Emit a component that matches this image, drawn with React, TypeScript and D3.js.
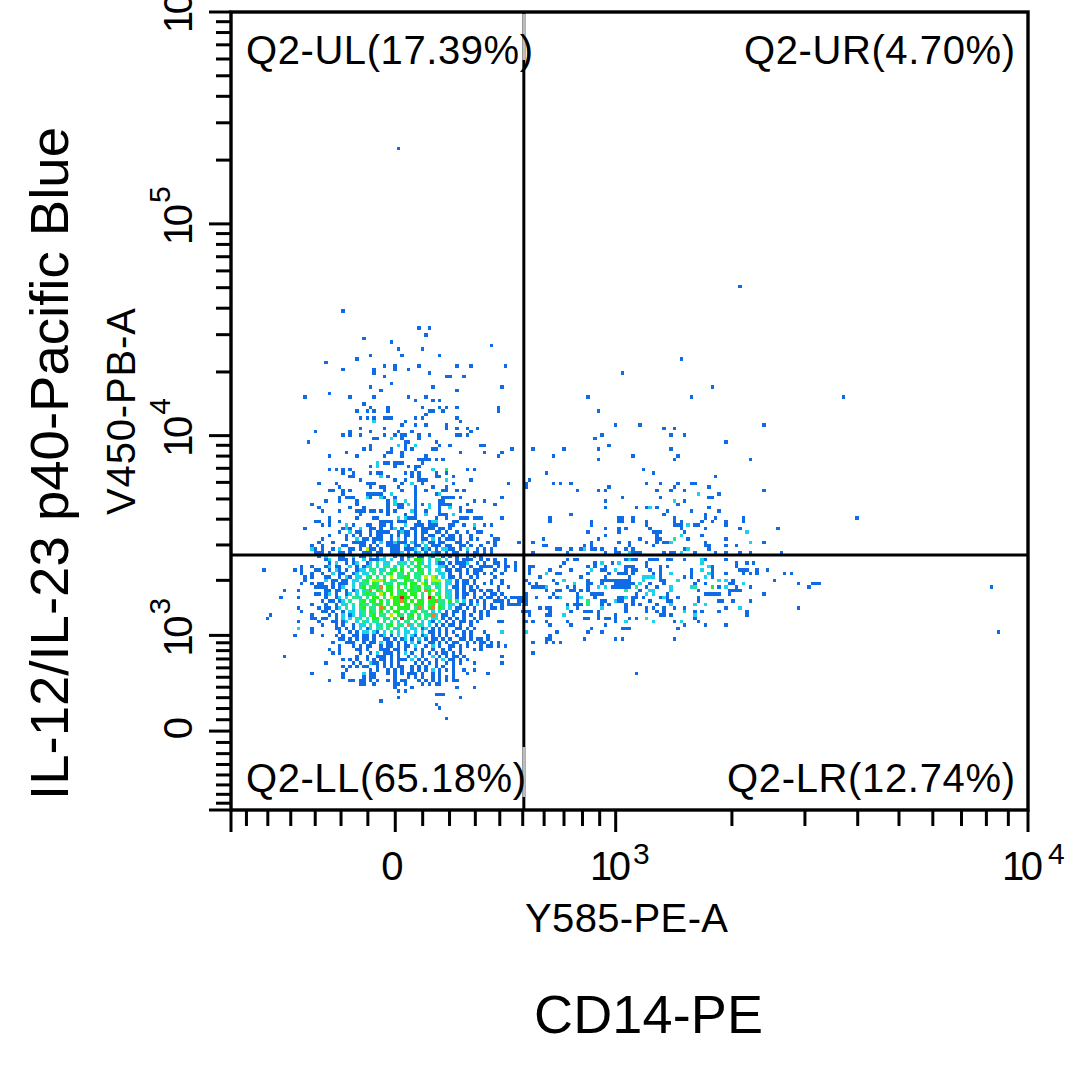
import * as d3 from 'd3';
import * as React from 'react';

// Tokens in the sparse rows: column number, suffix c = cyan, t = teal, g = green.

const gridSize = 231;
const cellColors = ['#ffffff', '#0f6ce4', '#1ad2ea', '#22e88c', '#22f020', '#b4f000', '#e8832c', '#dc1c1c'];

const quadrantLabels = ['Q2-UL(17.39%)', 'Q2-UR(4.70%)', 'Q2-LL(65.18%)', 'Q2-LR(12.74%)'];

const xMinorTicks = [-600, -500, -400, -300, -200, -100, 100, 200, 300, 400, 500, 600, 700, 800, 900, 2000, 3000, 4000, 5000, 6000, 7000, 8000, 9000];
const xMajorTicks = [-677, 0, 1000, 10000];
const yMinorTicks = [-700, -600, -500, -400, -300, -200, -100, 100, 200, 300, 400, 500, 600, 700, 800, 900,
  2000, 3000, 4000, 5000, 6000, 7000, 8000, 9000, 20000, 30000, 40000, 50000, 60000, 70000, 80000, 90000,
  200000, 300000, 400000, 500000, 600000, 700000, 800000, 900000];
const yMajorTicks = [-781, 0, 1000, 10000, 100000, 1000000];
const yExponentTicks = [[1000, 3], [10000, 4], [100000, 5]];
const xGate = 505;
const yGate = 2675;

// lower left cluster, col origin 17, row origin 147; one char per cell
const coreRows = [
  '.......11..1..1...........1111.111...1..122....11',
  '.........1.1....2.1...11..11.1...2..111.111...11..1..2..1.1',
  '....1..........121..2..11.1..12.1..11.1111.11.1......1',
  '..............1..2.11..1.1111..1211.1.11..11.1..1..1..11',
  '...........1....1.1.1..1.11..1.1.11.1.1.11..1.11.1..1.....1',
  '.........1......1..2.11.111..1.2.1..1.11.2.1.111.1..1.1....11',
  '........1...1.....1111..1.2.112111.21.2.11.11...11.1.....1.1......1',
  '......1..1.....11...11.1.1..1111.21.11.2.111.11..11.1..1...1',
  '......21.1..1.2..11.1.511.1..111.1112.121.1.2211.1.2..1.1.1',
  '.......111.1..11.1...111.11..1112.1.12.1.211.1.11..1.11.1.1',
  '........1.2...11..2.11.2.1.2..1.1.12.11.21..1.1.1..1.1.1',
  '..........12..111.1..2.11122.2..1.2.443.2.33.2..1.111..1.1.1..1',
  '...........1.2..1.12..12.3.22..232.3.42.2.211.1.1112..1.1..11.1..1',
  '...1..1...12.11..2.1.123.2.33.2.3.3.34.32..221.1.11.1..1111.1.11.1',
  '.1.1...11..1.21.1..122.33.23.34.4..3.43.2.32.11.11.1.111...1..1..1',
  '...1..1..1..2.11..12.22.3.3.34.33.4.334.3..22.1..1.1.11.1.1..1',
  '....1.1...11..1.21.22.34.3.3.5.3344.33.5.53.2.11.1..1.1....1',
  '....1.....2.11.11.22.34.5554.33..433.3.2.555.32.1.11.1....1..1',
  '...1..1.11..1.111.2.233.43.333.434.44.54.343.22.1.11.1..1.1..1',
  '.......1111.1.12..2.34.3435.44.4.3.434.33.23.2.11.1.1.1.....1..1',
  '..1.......11.11.1.12.234.43.44.34.3434.445.3.22.1.1.11.1.11.1',
  '.......11.12.1..12.2.3433.54.4.344.44.3.4.33.32.1.11.1..1.11.1',
  '..1.......1..12.2.332.3.44.3.544.44.4.3.34.4.32.1.1..1.1.11.1.1.11',
  '.........1.11.12.3..34.34.4.3.4444.4.44.44.33.4.3.2.1.1.1..111.1',
  '......1...1..1.22.3.433.344.3.44.44.444.34.33.22.11.1.2.1.1..1.111',
  '..1.....1.11.12.3.2.34.33.34.4.4444.3.3.44.43.2.11.1.1..1.11.1',
  '...1.....11.1..1.22.23.43.4.3.44.3.34.33.2.2.1.11.1..1.1.1',
  '......1....1.1.2.12.23.34.33.5.43.34.3.33.2.11.1..1.1..1.1',
  '......11.11..1.2.2.32.3.44.33.4.3.43.4.3.23.1.1.1.1..1.1',
  '..1.....1...11.12..2.32.33.3.3.2.33.3.2.21.2.1.1.11.1.1.....11',
  '.........1...1.1..1.22.3.23.34.33.22.32.2.1.1.11.1..1',
  '..2...1......11.1.1.2.12.33.3.23.2.22.12.1.1.1..11.1.1',
  '......1.......1..1.1.22.21.2.3.2.22.2.2.11.1.1.1..1.1...1....2',
  '.1.......1...1.1..11.11.1.12.1.2.2.21.12.1.1.1..1.1.1....1',
  '..............11.1.1.11.1..11.1.12.1.2.1.11.1.1..11.1.11.1',
  '............1...111..1.11.2.11.1.1.2.1..11.1.1.11..1.1.11.1.1',
  '..............1...1.1.11..1.11.1.11.2..1.2.1..11.1.1...1.11.1.1',
  '...........1..1....11.1...111.11.1..1.1..1..1.1..1...1.1',
  '............1.1.....1..1.2.111.1.2.1..1.1.1.11.1.1',
  '...................1..1..111.1.1..1.2.1..2.1.1.11.1..........1',
  '...............1.1.1..1.1.11.1.111.2.1.1..1.2.11.1.1',
  '..........1.......1.1..211.1.1.1....1.1.1.1..1.1.1...1.......1',
  '...............1.1.1.11..1.1.1.11..1.1.1..1.1..1',
  '................1......1.1..1.1.1..1.1.1.2.1.1.1..1..1',
  '......1........1.....2.11...1.1.1.111.1..1.1...1...1.....1',
  '...............1.....1.11.....1...1.1.1..1.1.1.1',
  '...........1.....11.11.1.1..1.1.11...1.1.1.1.1.11',
  '....................11..1.....11.1....1.1.11',
  '..............................1....1............1....1',
  '...............................1.1',
  '..........................................111',
  '...............................1.................1',
  '..........................1',
  '..........................................1',
  '...........................................1',
  '',
  '',
  '.............................................1',
];

// hottest cells of the lower left cluster: column, row, level
const coreHotCells = [
  [32, 22, 7], [32, 23, 6], [40, 22, 7], [32, 28, 7], [23, 20, 6], [26, 19, 6], [39, 20, 6],
  [42, 23, 6], [26, 25, 6], [37, 25, 6], [41, 25, 6], [41, 27, 6], [34, 30, 6],
];

// upper left cloud, col origin 17, row origin 89
const upperLeftRows = [
  '', '', '37 40', '', '39', '21', '29', '58', '31 38', '', '23 32 43', '19', '10',
  '27 30 37 48 52 62', '15 24 30 34', '24 40', '27 45 46 50', '', '29', '23 41 61', '26 48', '11',
  '4 17 24 34 39', '36 41 43', '21', '23 28 38 43 45 48 60', '19 22 24 28 40 41 44 60', '39',
  '20 22 24 27 28 29 36 38 48', '24c 33 49', '32 36 39 45', '20 27 45 48 51 54', '7 17 23 31 35 52',
  '15 17 20 27 30 32 33 37 40 48 49 51', '24 25 29c 32 37', '5 33 34 42', '23 31c 33 36c 43 46 55 56',
  '21 23 29 33 35 41 42 64', '16 28 29 32 49 56 61', '11 19 27 32 39 60', '37 38 39 40 42 44',
  '25c 27 28 30 31 32 38', '23 25c 30 34 36 37', '11 13 15 17 36 41c 45t 51 53',
  '15 18 23 25 26 33 35 37 42 45', '17 18 26c 28 35 37 42 43 47', '20 30 33 37 38 39 45c 52',
  '8 13 22 23 24 32 35c 38 47 63', '14 23 26 27 31 36 41 45', '11 12 15 17 27 32 36 39 44 45 48 50',
  '15 22 23 24 25 26 29c 36 42 43c', '14 16 17 18 22c 23 26c 27 30 36 44 45 46 47 49 61',
  '10 14 19 28 30c 33c 36 43 44 53 56', '6 19 28 30c 31 32 34c 36 38 40c 43 44 45 46 51 59',
  '8 17 21 28 31 32 36 40c 43 46c 49', '9 14 19 20 21 23 24 26 28 30 35c 36 39 43 49 51 52',
  '20 28 33 36 39c 43 44 45 47c', '11 19 24 25 31c 33c 34 35 36 42 45 49 50 51 53 54 55 61',
];

// upper right cloud, col origin 83, row origin 94
const upperRightRows = [
  '', '', '', '', '', '', '47', '', '', '', '30', '', '', '', '56', '', '', '20 50', '', '', '', '23', '', '', '',
  '28 35 71', '45 42', '', '24 44 48', '22', '60', '26', '13 4 23 44', '', '10 33 46', '23 45 67', '', '', '36',
  '8 39', '57', '3', '12 37 41 50 51 2 10 15 46', '2 26 45 55', '17 23 25 40 44 48 71', '58 52c', '30 41 55 56',
  '25 45c 48', '46', '25 34 37 38c 40 55', '43 50 58', '15 42 54', '9 29 30 33 45 54 57 65',
];

// lower right cloud, col origin 83, row origin 147
const lowerRightRows = [
  '9 21 29 30 33 37 45 47 53 56 60 65',
  '21 37 45 46 47 49c 51 52 60',
  '25 29 31 38 47 54 64 75',
  '20 29 39 40 41 48 66c',
  '25 40 47c 53',
  '7 23 35 40 41 45t 49 60',
  '4 21 29 32 37 40 42 43 44c 54 67c 71',
  '7 8 19 21 32 39 54 55 60 63',
  '11 12 15 18 19c 21 22 24 28 31 33 48 49c 55',
  '4 14 25 28 29 32c 33 34 35 42 44 45 47c 51 57 60 64 67 76',
  '',
  '14 16 17 31 32c 33 34 38 39 40 43 44 48 53c 54 60',
  '13 22 24c 27 29c 37 53c 63 66 68',
  '3 4 12 20 22 25 31 32 33 37 41 43 55c 56 63',
  '3 9 15 21c 24 25 28c 31 33 34 38 41 50 53c 56 64 65 66 69 72',
  '3 8c 11 12 20 26 29 30 31 33 39 41 44c 50 55c 56 60 65 67 69 77 79',
  '6 18 25 32 36c 37c 38c 39c 41 48 50 54c 56',
  '2 10 13c 20 24 25 26 27 28 29 30 31 32 36c 41 42 46c 52 58c 60c 62 74',
  '3 5 11 16c 20 21 24 28 29 30 31 32 33 35c 38 42 51 54 61 62 65c 81 86',
  '4 5 6 7 8c 14 16 20 23c 25c 27 28 29 30 31 32 34t 37 40 44c 50c 51t 56g 58 60c 63 67 84',
  '8 11 12 15 16 18 20 31t 35 38c 39c 44c 52 61 62 63 64',
  '2 10 17 21 22 23 24 34 37c 39c 43 54 55 56 57 58 61 71',
  '0 1 2 5 9 11 12c 17 18c 22 29 30 31c 33 34 36 41 42c 43 46 52',
  '0 1 2 17 20t 24 25 28c 29 30 33 38 43 44 52 58 59 62 67',
  '0 2 14 16 17 18 20t 24 26 31 33 35 40 44c 51c 54c',
  '6 8 9 14c 17 24c 31 37 39 42 45 48 60 64c 81',
  '1 2 3 9 15 19 20 21 23 31 37 40 42 48c 51 53 58 66',
  '3 8 9 13c 23 28 41 42 44 51c 66',
  '19 20 23 25 26 28 32 34 37t 51',
  '2 4 8 14 28 31c 39c 45 47c 52',
  '9 15 25 48 54 60',
  '21 30 31 32 46',
  '2c 11 20 24',
  '9',
  '8 9 19 28 30 45',
  '4 8 10 12',
  '', '',
  '4',
  '', '', '', '', '', '34',
];

// single events far from the clouds: column, row
const outlierCells = [
  [48, 39], [147, 79], [32, 86], [177, 111], [181, 146], [220, 166], [222, 179],
  [9, 161], [11, 174], [10, 175], [15, 186], [14, 169], [15, 167], [168, 165], [170, 165],
];

type Cell = { col: number; row: number; level: number };

const tokenLevels: Record<string, number> = { c: 2, t: 3, g: 4 };

function parseSparse(rows: string[], colOrigin: number, rowOrigin: number): Cell[] {
  const cells: Cell[] = [];
  rows.forEach((line, i) => {
    line.split(' ').filter(Boolean).forEach((tok) => {
      const suffix = tok[tok.length - 1];
      const level = tokenLevels[suffix] ?? 1;
      cells.push({ col: colOrigin + parseInt(tok, 10), row: rowOrigin + i, level });
    });
  });
  return cells;
}

function parseDense(rows: string[], colOrigin: number, rowOrigin: number): Cell[] {
  const cells: Cell[] = [];
  rows.forEach((line, i) => {
    line.split('').forEach((ch, j) => {
      if (ch !== '.') {
        cells.push({ col: colOrigin + j, row: rowOrigin + i, level: +ch });
      }
    });
  });
  return cells;
}

const allCells: Cell[] = [
  ...parseSparse(upperLeftRows, 17, 89),
  ...parseSparse(upperRightRows, 83, 94),
  ...parseSparse(lowerRightRows, 83, 147),
  ...parseDense(coreRows, 17, 147),
  ...coreHotCells.map(([c, r, level]) => ({ col: 17 + c, row: 147 + r, level })),
  ...outlierCells.map(([col, row]) => ({ col, row, level: 1 })),
];

// biexponential axes, asinh with the width that fits the printed ticks
const xWidth = 680;
const yWidth = 808;
const xT = (v: number) => Math.asinh(v / xWidth);
const yT = (v: number) => Math.asinh(v / yWidth);

const left = 231;
const right = 1028;
const top = 12;
const bottom = 810;

const xPos = d3.scaleLinear().domain([xT(-677), xT(10000)]).range([left, right]);
const yPos = d3.scaleLinear().domain([yT(-781), yT(1000000)]).range([bottom, top]);
const xCell = d3.scaleLinear().domain([0, gridSize]).range([left, right]);
const yCell = d3.scaleLinear().domain([0, gridSize]).range([top, bottom]);

const font = '"Liberation Sans", Arial, sans-serif';
const ink = '#000000';

export default function App() {
  const x = (v: number) => xPos(xT(v));
  const y = (v: number) => yPos(yT(v));
  const cw = xCell(1) - xCell(0);
  const ch = yCell(1) - yCell(0);

  return (
    <svg
      width={1083}
      height={1065}
      viewBox="0 0 1083 1065"
      style={{ position: 'absolute', left: 0, top: 0, display: 'block', background: '#fff' }}
      fontFamily={font}
      fill={ink}
    >
      <g shapeRendering="crispEdges">
        {allCells.map((d, i) => (
          <rect key={i} x={xCell(d.col)} y={yCell(d.row)} width={cw} height={ch} fill={cellColors[d.level]} />
        ))}
      </g>

      {/* gates */}
      <line x1={x(xGate)} x2={x(xGate)} y1={top} y2={bottom} stroke={ink} strokeWidth={3} />
      <line x1={left} x2={right} y1={y(yGate)} y2={y(yGate)} stroke={ink} strokeWidth={3} />
      <line x1={x(xGate)} x2={x(xGate)} y1={14} y2={60} stroke="#bdbdbd" strokeWidth={3} />
      <line x1={x(xGate)} x2={x(xGate)} y1={747} y2={797} stroke="#bdbdbd" strokeWidth={3} />

      {/* frame */}
      <rect x={left} y={top} width={right - left} height={bottom - top} fill="none" stroke={ink} strokeWidth={3.4} />

      {/* x ticks */}
      {xMajorTicks.map((v) => (
        <line key={v} x1={x(v)} x2={x(v)} y1={bottom} y2={832} stroke={ink} strokeWidth={3} />
      ))}
      {xMinorTicks.map((v) => (
        <line key={v} x1={x(v)} x2={x(v)} y1={bottom} y2={826} stroke={ink} strokeWidth={3} />
      ))}

      {/* y ticks */}
      {yMajorTicks.map((v) => (
        <line key={v} x1={209} x2={left} y1={y(v)} y2={y(v)} stroke={ink} strokeWidth={3} />
      ))}
      {yMinorTicks.map((v) => (
        <line key={v} x1={216} x2={left} y1={y(v)} y2={y(v)} stroke={ink} strokeWidth={3} />
      ))}

      {/* x tick labels */}
      <text x={x(0) - 3} y={880} fontSize={40} textAnchor="middle">0</text>
      <text x={590} y={880} fontSize={40} textLength={41} lengthAdjust="spacing">10</text>
      <text x={633} y={864} fontSize={30}>3</text>
      <text x={1002} y={880} fontSize={40} textLength={41} lengthAdjust="spacing">10</text>
      <text x={1048} y={864} fontSize={30}>4</text>

      {/* y tick labels */}
      <text transform={`translate(192,${y(0) - 3}) rotate(-90)`} fontSize={40} textAnchor="middle">0</text>
      {yExponentTicks.map(([v, e]) => (
        <g key={v} transform={`translate(192,${y(v) + 21}) rotate(-90)`}>
          <text fontSize={40} textLength={41} lengthAdjust="spacing">10</text>
          <text x={42} y={-22} fontSize={30}>{e}</text>
        </g>
      ))}
      <text transform={`translate(192,33) rotate(-90)`} fontSize={40} textLength={41} lengthAdjust="spacing">10</text>

      {/* quadrant labels */}
      <text x={246} y={64} fontSize={40} textLength={287} lengthAdjust="spacing">{quadrantLabels[0]}</text>
      <text x={744} y={64} fontSize={40} textLength={271} lengthAdjust="spacing">{quadrantLabels[1]}</text>
      <text x={246} y={792} fontSize={40} textLength={280} lengthAdjust="spacing">{quadrantLabels[2]}</text>
      <text x={727} y={792} fontSize={40} textLength={288} lengthAdjust="spacing">{quadrantLabels[3]}</text>

      {/* axis names */}
      <text x={525} y={932} fontSize={40} textLength={203} lengthAdjust="spacing">Y585-PE-A</text>
      <text transform="translate(135,515) rotate(-90)" fontSize={40} textLength={207} lengthAdjust="spacing">V450-PB-A</text>
      <text x={534} y={1033} fontSize={54} textLength={229} lengthAdjust="spacing">CD14-PE</text>
      <text transform="translate(68,800) rotate(-90)" fontSize={54.5} textLength={673} lengthAdjust="spacing">IL-12/IL-23 p40-Pacific Blue</text>
    </svg>
  );
}
